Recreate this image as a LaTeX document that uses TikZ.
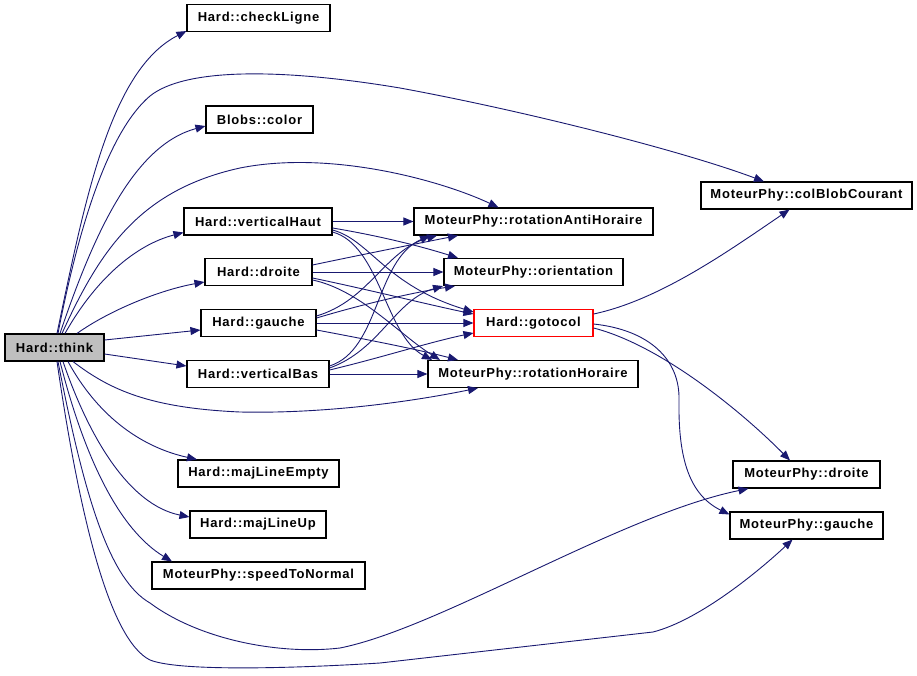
\documentclass[tikz,border=0pt]{standalone}
\usepackage{fontspec}
\setmainfont{Liberation Sans}[LetterSpace=6]
\usetikzlibrary{arrows.meta}
\definecolor{edgec}{HTML}{191970}
\definecolor{thinkfill}{HTML}{BFBFBF}
\tikzset{
  box/.style={draw=black, line width=1.1pt, fill=white, minimum height=27pt, inner sep=0pt,
    font=\bfseries\fontsize{13}{15}\selectfont},
  edge/.style={draw=edgec, line width=0.9pt, -{Triangle[length=10pt,width=8pt]}}
}
\begin{document}
\begin{tikzpicture}[x=1pt,y=-1pt]
\useasboundingbox (0,0) rectangle (917,676);
\node[box, fill=thinkfill, minimum width=99pt] (th) at (54.5,347.5) {Hard::think};
\node[box, minimum width=143pt] (cl) at (258.5,18) {Hard::checkLigne};
\node[box, minimum width=107pt] (bc) at (259.5,119.5) {Blobs::color};
\node[box, minimum width=148pt] (vh) at (258,221.5) {Hard::verticalHaut};
\node[box, minimum width=107pt] (dr) at (258.5,272) {Hard::droite};
\node[box, minimum width=115pt] (ga) at (258.5,323) {Hard::gauche};
\node[box, minimum width=142pt] (vb) at (258,374) {Hard::verticalBas};
\node[box, minimum width=161pt] (mle) at (258.5,473.5) {Hard::majLineEmpty};
\node[box, minimum width=136pt] (mlu) at (258,524.5) {Hard::majLineUp};
\node[box, minimum width=213pt] (stn) at (258.5,575.5) {MoteurPhy::speedToNormal};
\node[box, minimum width=239pt] (ra) at (533.5,221.5) {MoteurPhy::rotationAntiHoraire};
\node[box, minimum width=179pt] (ori) at (533.5,272) {MoteurPhy::orientation};
\node[box, draw=red, minimum width=119pt] (gc) at (533.5,323) {Hard::gotocol};
\node[box, minimum width=210pt] (rh) at (533,374) {MoteurPhy::rotationHoraire};
\node[box, minimum width=211pt] (cb) at (806.5,195.5) {MoteurPhy::colBlobCourant};
\node[box, minimum width=147pt] (mpd) at (806.5,474.5) {MoteurPhy::droite};
\node[box, minimum width=153pt] (mpg) at (806.5,525.5) {MoteurPhy::gauche};
% edges from think
\draw[edge] ([xshift=2.5pt]th.north) .. controls (85,200) and (110,70) .. ([yshift=1pt]cl.south west);
\draw[edge] ([xshift=3.5pt]th.north) .. controls (80,220) and (110,130) .. (150,96) .. controls (185,68) and (280,68) .. (400,88) .. controls (520,110) and (680,150) .. ([xshift=-42.5pt]cb.north);
\draw[edge] ([xshift=5.5pt]th.north) .. controls (95,230) and (135,145) .. ([yshift=-6.5pt]bc.west);
\draw[edge] ([xshift=7.5pt]th.north) .. controls (100,250) and (140,190) .. (240,168) .. controls (330,150) and (440,180) .. ([xshift=-35pt]ra.north);
\draw[edge] ([xshift=10.5pt]th.north) .. controls (95,280) and (135,245) .. ([yshift=-11pt]vh.west);
\draw[edge] ([xshift=22.5pt]th.north) .. controls (110,310) and (160,290) .. ([yshift=-10pt]dr.west);
\draw[edge] ([yshift=7.5pt]th.east) -- ([yshift=-7pt]ga.west);
\draw[edge] ([yshift=-6.5pt]th.east) -- ([yshift=8pt]vb.west);
\draw[edge] ([xshift=18.5pt]th.south) .. controls (110,390) and (150,408) .. (240,412) .. controls (330,414) and (420,400) .. ([xshift=-55pt]rh.south);
\draw[edge] ([xshift=13.5pt]th.south) .. controls (100,420) and (145,448) .. ([xshift=-61.5pt]mle.north);
\draw[edge] ([xshift=8.5pt]th.south) .. controls (90,440) and (130,505) .. ([yshift=7.5pt]mlu.west);
\draw[edge] ([xshift=5.5pt]th.south) .. controls (85,460) and (120,530) .. ([xshift=-86.5pt]stn.north);
\draw[edge] ([xshift=3.5pt]th.south) .. controls (85,500) and (110,580) .. (150,603) .. controls (200,640) and (280,655) .. (340,648) .. controls (440,628) and (620,515) .. ([xshift=-58pt]mpd.south);
\draw[edge] ([xshift=2.5pt]th.south) .. controls (80,520) and (110,640) .. (150,660) .. controls (180,672) and (300,668) .. (380,663) -- (653,632) .. controls (700,620) and (760,570) .. ([xshift=-14pt]mpg.south);
% middle edges
\draw[edge] (vh.east) -- (ra.west);
\draw[edge] ([yshift=-6.5pt]vh.east) .. controls (380,236) and (420,246) .. ([xshift=-75.5pt]ori.north);
\draw[edge] ([yshift=-8.5pt]vh.east) .. controls (370,240) and (385,285) .. ([yshift=11pt]gc.west);
\draw[edge] ([yshift=-10.5pt]vh.east) .. controls (380,245) and (385,335) .. ([xshift=-101pt]rh.north);
\draw[edge] ([yshift=7pt]dr.east) .. controls (360,255) and (420,243) .. ([xshift=-75.5pt]ra.south);
\draw[edge] (dr.east) -- (ori.west);
\draw[edge] ([yshift=-6pt]dr.east) .. controls (370,290) and (430,305) .. ([yshift=9pt]gc.west);
\draw[edge] ([yshift=-8pt]dr.east) .. controls (360,290) and (400,335) .. ([xshift=-93pt]rh.north);
\draw[edge] ([yshift=7pt]ga.east) .. controls (370,300) and (385,250) .. ([xshift=-96.5pt]ra.south);
\draw[edge] ([yshift=5pt]ga.east) .. controls (360,305) and (410,293) .. ([xshift=-78.5pt]ori.south);
\draw[edge] (ga.east) -- (gc.west);
\draw[edge] ([yshift=-7pt]ga.east) .. controls (370,340) and (420,350) .. ([xshift=-75pt]rh.north);
\draw[edge] ([yshift=8pt]vb.east) .. controls (380,350) and (375,260) .. ([xshift=-103.5pt]ra.south);
\draw[edge] ([yshift=6pt]vb.east) .. controls (380,350) and (395,300) .. ([xshift=-90.5pt]ori.south);
\draw[edge] ([yshift=4pt]vb.east) .. controls (380,358) and (430,342) .. ([yshift=-10pt]gc.west);
\draw[edge] (vb.east) -- (rh.west);
% from gotocol
\draw[edge] ([yshift=9pt]gc.east) .. controls (660,300) and (730,250) .. ([xshift=-17pt]cb.south);
\draw[edge] ([yshift=-5pt]gc.east) .. controls (660,345) and (740,410) .. ([xshift=-16.5pt]mpd.north);
\draw[edge] ([yshift=-1pt]gc.east) .. controls (650,330) and (680,360) .. (679,400) .. controls (678,460) and (690,495) .. ([yshift=11pt]mpg.west);
\end{tikzpicture}
\end{document}
